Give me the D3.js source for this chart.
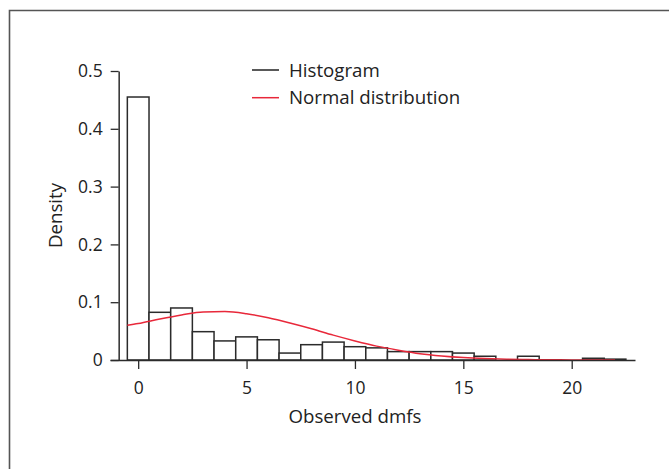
<!DOCTYPE html>
<html>
<head>
<meta charset="utf-8">
<script src="https://cdn.jsdelivr.net/npm/d3@7"></script>
<style>
  html, body { margin: 0; padding: 0; background: #fff; }
  svg { display: block; font-family: "Open Sans", sans-serif; }
</style>
</head>
<body>
<svg id="chart" width="669" height="469"></svg>
<script>
// histogram bins: centre value of each one-unit bin, and its density
const binCenters = [0, 1, 2, 3, 4, 5, 6, 7, 8, 9, 10, 11, 12, 13, 14, 15, 16, 17, 18, 19, 20, 21, 22];
const binDensity = [0.455, 0.0825, 0.090, 0.049, 0.033, 0.040, 0.035, 0.012, 0.0265, 0.031, 0.023, 0.021,
                    0.0145, 0.0145, 0.0145, 0.012, 0.0065, 0, 0.0065, 0, 0, 0.003, 0.0015];

// normal curve
const normalX = [-0.5, 0, 1, 2, 3, 4, 5, 6, 7, 8, 9, 10, 11, 12, 13, 14, 15, 16, 17, 18, 19, 20, 21, 22];
const normalY = [0.060, 0.063, 0.071, 0.078, 0.0832, 0.0838, 0.080, 0.073, 0.064, 0.054, 0.043, 0.033,
                 0.024, 0.017, 0.011, 0.007, 0.0042, 0.0025, 0.0015, 0.0008, 0.0004, 0.0002, 0.0001, 0];

const xTicks = [0, 5, 10, 15, 20];
const yTicks = [0, 0.1, 0.2, 0.3, 0.4, 0.5];
const legendLabels = ["Histogram", "Normal distribution"];
const legendColors = ["#222", "#e8283a"];

const svg = d3.select("#chart");
const ink = "#2b2b2b";

// outer frame (runs off the right and bottom edges)
svg.append("path")
  .attr("d", "M9.5,480V10.5H680")
  .attr("fill", "none")
  .attr("stroke", "#555")
  .attr("stroke-width", 1.6);

const x = d3.scaleLinear().domain([-1.3, 22.92]).range([110, 635]);
const y = d3.scaleLinear().domain([0, 0.5]).range([360, 71]);

// bars
svg.append("g")
  .selectAll("rect")
  .data(binCenters)
  .join("rect")
  .attr("x", d => x(d - 0.5))
  .attr("width", d => x(d + 0.5) - x(d - 0.5))
  .attr("y", (d, i) => y(binDensity[i]))
  .attr("height", (d, i) => y(0) - y(binDensity[i]))
  .attr("fill", "#fff")
  .attr("stroke", ink)
  .attr("stroke-width", 1.5);

// normal curve
const line = d3.line()
  .x((d, i) => x(normalX[i]))
  .y(d => y(d))
  .curve(d3.curveMonotoneX);

svg.append("path")
  .datum(normalY)
  .attr("d", line)
  .attr("fill", "none")
  .attr("stroke", legendColors[1])
  .attr("stroke-width", 1.5);

// axes
const xAxis = svg.append("g")
  .attr("transform", `translate(0,${y(0)})`)
  .call(d3.axisBottom(x).tickValues(xTicks).tickSize(9).tickSizeOuter(0).tickPadding(13));

const yAxis = svg.append("g")
  .attr("transform", `translate(${x(-0.9)},0)`)
  .call(d3.axisLeft(y).tickValues(yTicks).tickSize(8).tickSizeOuter(0).tickPadding(8)
    .tickFormat(d => d === 0 ? "0" : d3.format(".1f")(d)));

[xAxis, yAxis].forEach(g => {
  g.select(".domain").attr("stroke", ink).attr("stroke-width", 1.5);
  g.selectAll(".tick line").attr("stroke", ink).attr("stroke-width", 1.3);
  g.selectAll(".tick text")
    .attr("fill", "#222")
    .style("font-size", "17.5px")
    .style("font-family", "'Open Sans', sans-serif");
});

// axis titles
svg.append("text")
  .attr("x", x(10))
  .attr("y", 423)
  .attr("text-anchor", "middle")
  .attr("fill", "#222")
  .style("font-size", "18.7px")
  .text("Observed dmfs");

svg.append("text")
  .attr("transform", `translate(62,${(y(0) + y(0.5)) / 2}) rotate(-90)`)
  .attr("text-anchor", "middle")
  .attr("fill", "#222")
  .style("font-size", "18.7px")
  .text("Density");

// legend
const legend = svg.append("g").attr("transform", "translate(252,70)");
const item = legend.selectAll("g")
  .data(legendLabels)
  .join("g")
  .attr("transform", (d, i) => `translate(0,${i * 27.7})`);

item.append("line")
  .attr("x1", 0).attr("x2", 27)
  .attr("stroke", (d, i) => legendColors[i])
  .attr("stroke-width", 1.5);

item.append("text")
  .attr("x", 37)
  .attr("dy", "0.35em")
  .attr("fill", "#222")
  .style("font-size", "18.7px")
  .text(d => d);
</script>
</body>
</html>
